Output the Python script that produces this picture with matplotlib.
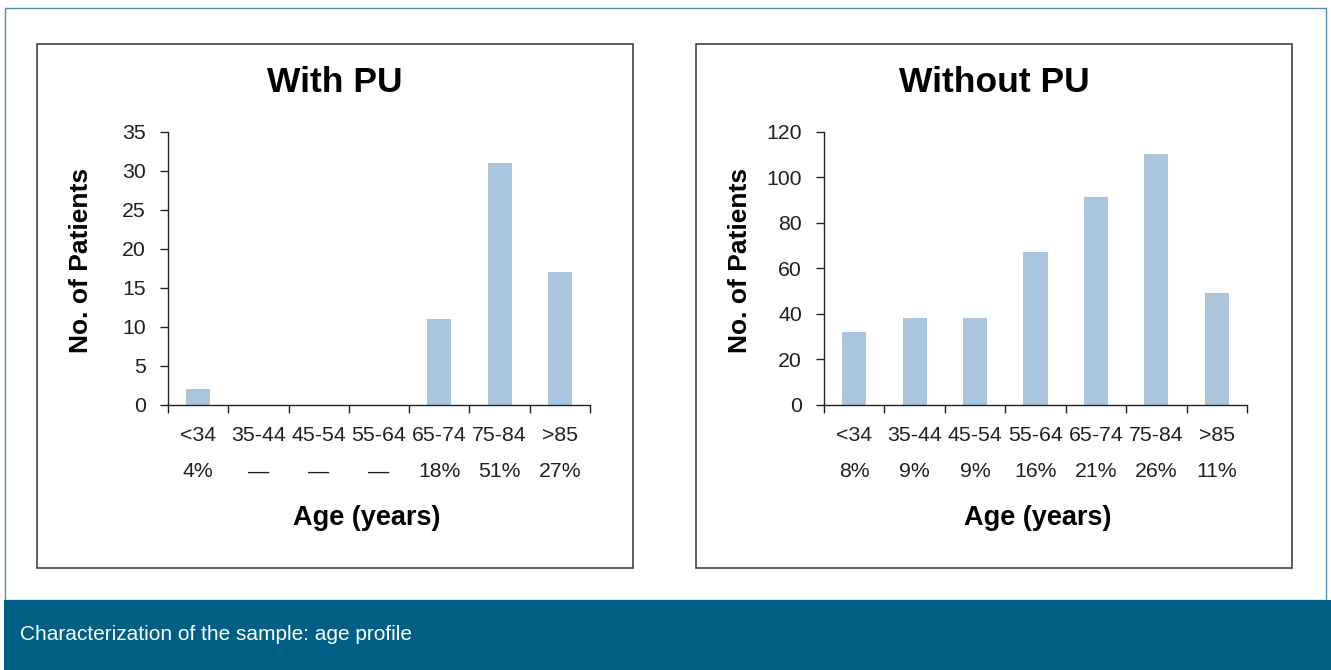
import matplotlib.pyplot as plt
import numpy as np
from matplotlib.patches import Rectangle
from matplotlib.transforms import blended_transform_factory

plt.rcParams['font.family'] = ['Liberation Sans', 'DejaVu Sans']

# data
ages = ['<34', '35-44', '45-54', '55-64', '65-74', '75-84', '>85']
with_pu = [2, 0, 0, 0, 11, 31, 17]
with_pu_pct = ['4%', '\u2014', '\u2014', '\u2014', '18%', '51%', '27%']
without_pu = [32, 38, 38, 67, 91, 110, 49]
without_pu_pct = ['8%', '9%', '9%', '16%', '21%', '26%', '11%']

bar_color = '#abc6dc'
text_color = '#231f20'
band_color = '#005f85'

W, H = 1331, 670
fig = plt.figure(figsize=(W / 100, H / 100), dpi=100)


def fx(x):
    return x / W


def fy(y):
    return 1 - y / H


# outer frame and caption band
fig.add_artist(Rectangle((fx(4.5), fy(600)), fx(1326.5) - fx(4.5), fy(8) - fy(600),
                         transform=fig.transFigure, fill=False, edgecolor='#4b8fb0', lw=1.0))
fig.add_artist(Rectangle((fx(4), 0), 1 - fx(4), fy(600), transform=fig.transFigure,
                         facecolor=band_color, edgecolor='none'))
fig.text(fx(20), fy(634), 'Characterization of the sample: age profile',
         fontsize=15, color='white', ha='left', va='center')


def panel(box_x0, box_x1, ax_x0, ax_x1, values, pcts, ymax, ystep, title, xlab_x):
    fig.add_artist(Rectangle((fx(box_x0), fy(568)), fx(box_x1) - fx(box_x0), fy(44) - fy(568),
                             transform=fig.transFigure, fill=False, edgecolor='#333333', lw=1.1))
    ax = fig.add_axes([fx(ax_x0), fy(404.5), (ax_x1 - ax_x0) / W, (404.5 - 131.5) / H])
    x = np.arange(len(ages))
    ax.bar(x, values, width=0.4, color=bar_color, zorder=1)
    ax.set_xlim(-0.5, len(ages) - 0.5)
    ax.set_ylim(0, ymax)
    for s in ['top', 'right']:
        ax.spines[s].set_visible(False)
    for s in ['left', 'bottom']:
        ax.spines[s].set_color('#222222')
        ax.spines[s].set_linewidth(1.0)
        ax.spines[s].set_zorder(3)
    ax.set_xticks(np.arange(-0.5, len(ages), 1))
    ax.set_xticklabels([])
    ax.set_yticks(np.arange(0, ymax + 1, ystep))
    ax.tick_params(axis='x', length=6, width=1.0, color='#222222')
    ax.tick_params(axis='y', length=6, width=1.0, color='#222222', pad=10,
                   labelsize=15.3, labelcolor=text_color)
    ax.patch.set_alpha(0)

    trans = blended_transform_factory(ax.transData, ax.transAxes)
    for i in range(len(ages)):
        ax.text(i, -0.115, ages[i], transform=trans, ha='center', va='center',
                fontsize=15.3, color=text_color)
        ax.text(i, -0.247, pcts[i], transform=trans, ha='center', va='center',
                fontsize=15.3, color=text_color)

    cx = (box_x0 + box_x1) / 2
    fig.text(fx(cx), fy(82), title, ha='center', va='center', fontsize=25.5,
             fontweight='bold', color='black')
    fig.text(fx(xlab_x), fy(518), 'Age (years)', ha='center', va='center', fontsize=19.5,
             fontweight='bold', color='black')
    fig.text(fx(box_x0 + 44), fy(260), 'No. of Patients', ha='center', va='center',
             fontsize=19, fontweight='bold', rotation=90, color='black')
    return ax


panel(37, 633, 168, 590, with_pu, with_pu_pct, 35, 5, 'With PU', 367)
panel(696, 1292, 824, 1247, without_pu, without_pu_pct, 120, 20, 'Without PU', 1038)

plt.savefig('out.png', dpi=100)
